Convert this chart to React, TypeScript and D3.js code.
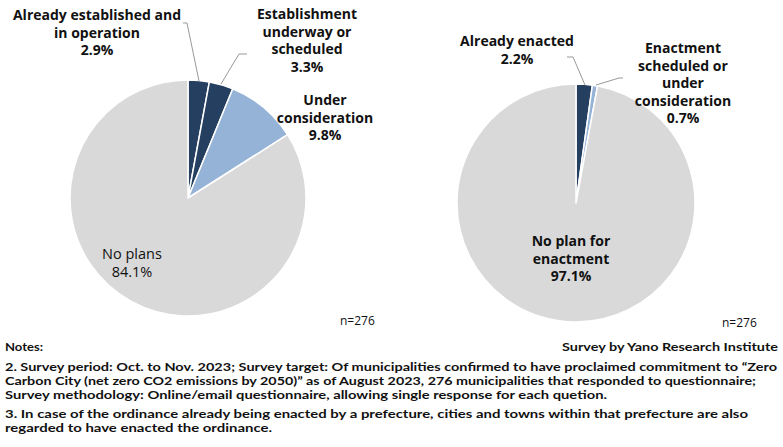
import React from "react";
import * as d3 from "d3";

const leftCategories = ["Already established and in operation", "Establishment underway or scheduled", "Under consideration", "No plans"];
const leftValues = [2.9, 3.3, 9.8, 84.1];
const rightCategories = ["Already enacted", "Enactment scheduled or under consideration", "No plan for enactment"];
const rightValues = [2.2, 0.7, 97.1];
const sampleLabel = "n=276";
const notes = [
  "2. Survey period: Oct. to Nov. 2023; Survey target: Of municipalities confirmed to have proclaimed commitment to \u201cZero",
  "Carbon City (net zero CO2 emissions by 2050)\u201d as of August 2023, 276 municipalities that responded to questionnaire;",
  "Survey methodology: Online/email questionnaire, allowing single response for each quetion.",
  "3. In case of the ordinance already being enacted by a prefecture, cities and towns within that prefecture are also",
  "regarded to have enacted the ordinance.",
];
const noteBaselines = [371, 385, 399, 418, 432];
const noteWidths = [772, 751, 602, 743, 267];

const DARK = "#243F60";
const LIGHT = "#95B3D7";
const GREY = "#D9D9D9";
const leftColors = [DARK, DARK, LIGHT, GREY];
const rightColors = [DARK, LIGHT, GREY];
const FONT = "'Open Sans', sans-serif";
const NOTE_FONT = "Lato, sans-serif";

function Pie({ values, colors, cx, cy, r }: { values: number[]; colors: string[]; cx: number; cy: number; r: number }) {
  const arcs = d3.pie<number>().sort(null).value((d) => d)(values);
  const arc = d3.arc<d3.PieArcDatum<number>>().innerRadius(0).outerRadius(r);
  return (
    <g transform={`translate(${cx},${cy})`}>
      {arcs.map((a, i) => (
        <path key={i} d={arc(a) || ""} fill={colors[i]} stroke="#fff" strokeWidth={1.5} strokeLinejoin="round" />
      ))}
    </g>
  );
}

function Label({ x, y, lines, bold = true, lh = 17.5, size = 14 }: { x: number; y: number; lines: string[]; bold?: boolean; lh?: number; size?: number }) {
  return (
    <text x={x} y={y} textAnchor="middle" fontFamily={FONT} fontSize={size} fontWeight={bold ? 700 : 400} fill="#111">
      {lines.map((l, i) => (
        <tspan key={i} x={x} dy={i === 0 ? 0 : lh}>{l}</tspan>
      ))}
    </text>
  );
}

export default function App() {
  const L = { cx: 188, cy: 198, r: 118 };
  const R = { cx: 576, cy: 203, r: 119 };
  const pct = (v: number) => `${v.toFixed(1)}%`;
  return (
    <svg width={783} height={447} style={{ position: "absolute", left: 0, top: 0, background: "#fff" }}>
      <rect width={783} height={447} fill="#fff" />
      <Pie values={leftValues} colors={leftColors} {...L} />
      <Pie values={rightValues} colors={rightColors} {...R} />

      {/* leader lines */}
      <polyline points="183,23 187,23 199,81" fill="none" stroke="#999" strokeWidth={1} />
      <polyline points="247,54 239,54 221,84" fill="none" stroke="#999" strokeWidth={1} />
      <polyline points="567,57 573,57 585,85" fill="none" stroke="#999" strokeWidth={1} />
      <polyline points="623,78 619,78 596,85" fill="none" stroke="#999" strokeWidth={1} />

      {/* left labels */}
      <Label x={97} y={20} lines={["Already established and", "in operation", pct(leftValues[0])]} />
      <Label x={307} y={19} lines={["Establishment", "underway or", "scheduled", pct(leftValues[1])]} />
      <Label x={325} y={105} lines={["Under", "consideration", pct(leftValues[2])]} />
      <Label x={132} y={259} lines={[leftCategories[3], pct(leftValues[3])]} bold={false} size={14.5} />

      {/* right labels */}
      <Label x={517} y={46} lines={[rightCategories[0], pct(rightValues[0])]} />
      <Label x={683} y={53} lines={["Enactment", "scheduled or", "under", "consideration", pct(rightValues[1])]} />
      <Label x={571} y={246} lines={["No plan for", "enactment", pct(rightValues[2])]} />

      <text x={340} y={325} fontFamily={FONT} fontSize={12} fill="#111">{sampleLabel}</text>
      <text x={722} y={327} fontFamily={FONT} fontSize={12} fill="#111">{sampleLabel}</text>

      {/* notes */}
      <text x={5} y={351} fontFamily={NOTE_FONT} fontSize={12} fontWeight={700} fill="#111" textLength={38} lengthAdjust="spacingAndGlyphs">Notes:</text>
      <text x={778} y={351} textAnchor="end" fontFamily={NOTE_FONT} fontSize={12} fontWeight={700} fill="#111" textLength={216} lengthAdjust="spacingAndGlyphs">Survey by Yano Research Institute</text>
      {notes.map((n, i) => (
        <text key={i} x={5} y={noteBaselines[i]} fontFamily={NOTE_FONT} fontSize={12} fontWeight={700} fill="#111" textLength={noteWidths[i]} lengthAdjust="spacingAndGlyphs">{n}</text>
      ))}
    </svg>
  );
}
